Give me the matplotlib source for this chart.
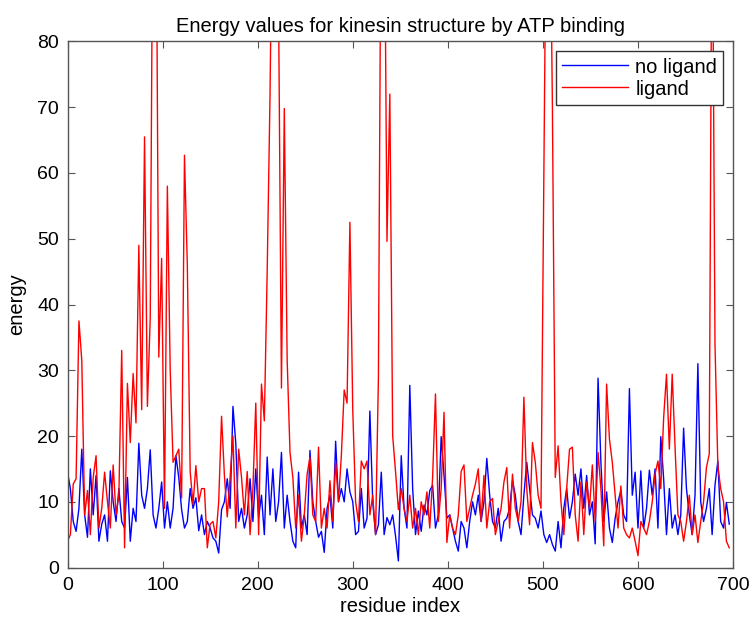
import matplotlib
matplotlib.use("Agg")
import matplotlib.pyplot as plt
import numpy as np

plt.rcParams['font.family'] = ['Liberation Sans', 'DejaVu Sans']

# residue index, sampled every 3 residues
residues = np.arange(0, 697, 3)

# energy without ligand (blue)
no_ligand = [
    14.5, 12, 7, 5.5, 9, 18, 8, 4.6, 15, 8, 14, 4, 6.6, 8, 4, 14.7, 10, 7, 12, 7,
    6, 13.7, 4, 9, 7, 18.9, 11, 9, 12, 17.9, 8, 6, 9, 13, 6, 10, 6, 9, 17, 13.7,
    8.8, 6, 7, 12, 9, 10.6, 5.6, 8, 5, 7, 6, 4.5, 4, 2.2, 8.8, 10, 13.5, 9, 24.5, 18.8,
    7, 9, 6, 8, 13.5, 7, 15, 7.6, 11, 5, 16.8, 8, 15, 7, 10, 17.5, 6, 11, 7, 4,
    3, 14.5, 6, 8, 5, 17.8, 10, 7, 4.6, 5.5, 2.3, 9, 11, 6, 19.2, 10, 12, 10, 15, 11.5,
    10, 5, 5.5, 12, 6, 7.5, 23.8, 10, 5, 6.5, 14.5, 5, 7.6, 6.5, 8, 4.8, 1, 17, 9, 6,
    27.7, 12, 5, 8.6, 5.5, 9.5, 8, 11.7, 12.5, 6, 8, 19.9, 14, 7.5, 8, 6, 4, 2.5, 7, 6,
    3, 7, 10, 8, 11, 7, 10, 16.6, 11, 7, 6, 9, 4, 7, 7.5, 9, 13.2, 11, 7, 5,
    11, 16, 12, 8, 7.5, 6, 8.6, 5, 3.8, 5, 3.5, 2.5, 7, 3, 9, 12, 7.5, 10, 14.2, 11,
    15, 9, 14, 8, 10, 3.6, 28.8, 16, 7, 11.5, 6, 3.8, 7.5, 10, 11.7, 8, 7, 27.2, 11, 14.5,
    6, 14.7, 6, 9, 14.8, 11, 15, 6, 19.9, 13.5, 5, 12, 6, 8, 5, 8, 21.2, 12, 8, 5,
    11, 31, 10, 7, 9, 12, 5, 12.5, 16.2, 7, 6, 9.9, 6.6,
]

# energy with ligand (red)
ligand = [
    4, 5, 12.7, 13.5, 37.5, 31.5, 8, 11.7, 5, 13.7, 17, 6, 9, 14.5, 10, 6, 15.6, 8, 11, 33,
    3, 28, 19, 29.5, 22, 49, 24, 65.5, 24.5, 38, 110, 110, 32, 47, 9, 58, 30, 16, 17, 18,
    10.6, 62.7, 46, 14.6, 9.6, 15.5, 10, 12, 12, 3, 6.6, 7, 4.5, 10, 23, 14, 7.7, 13.7, 20, 6,
    18, 13.7, 8, 14.6, 5, 12, 25, 5, 27.9, 22.3, 45, 72, 110, 110, 85, 27.3, 69.8, 31.6, 17.5, 13.7,
    6, 11, 4, 8, 14.2, 16.8, 8, 7, 18.3, 6, 9, 6, 13.2, 7, 16, 10, 17, 27, 25, 52.5,
    24, 10, 7, 16.2, 15, 16.2, 8, 11, 5, 29, 110, 110, 49.6, 72, 20, 14.6, 8.8, 12, 9, 7,
    11, 6, 9, 5, 10, 8, 11.5, 6, 13.7, 26.4, 7, 12, 23.6, 3.8, 8, 6, 5, 8, 14.6, 15.6,
    7, 9, 11, 12.7, 15, 7, 14, 6, 10, 10.5, 5, 7, 9, 13, 15.2, 6, 14.2, 9, 7, 10,
    25.9, 12, 6.5, 19, 16, 11, 9, 60, 110, 110, 70, 13.7, 18.5, 10, 5, 12, 18, 18.3, 8, 4,
    13, 5, 13, 9, 15.6, 7, 17.5, 12, 3.3, 27.9, 19.5, 16, 11, 6, 12.4, 6, 5, 4.5, 6, 4,
    1.8, 7, 6, 5, 7, 10, 14.2, 16.2, 12, 22.8, 29.4, 18, 29.4, 18.3, 8, 7, 4, 7, 11, 5,
    8, 3.8, 7, 10, 15.2, 17.3, 110, 34, 15.5, 12, 10, 4, 3,
]

assert len(no_ligand) == len(residues) == len(ligand)

fig = plt.figure(figsize=(7.52, 6.22), dpi=100)
ax = fig.add_axes([0.0898, 0.0876, 0.885, 0.8457])

ax.plot(residues, no_ligand, color='#0000ff', lw=1.0, label='no ligand')
ax.plot(residues, ligand, color='#ff0000', lw=1.0, label='ligand')

ax.set_xlim(0, 700)
ax.set_ylim(0, 80)
ax.set_xticks(np.arange(0, 701, 100))
ax.set_yticks(np.arange(0, 81, 10))

for s in ax.spines.values():
    s.set_color('#555555')
    s.set_linewidth(1.0)
ax.tick_params(direction='in', top=True, right=True, length=5, width=0.8,
               color='#555555', labelsize=14, labelcolor='black')
ax.tick_params(axis='x', pad=7)
ax.tick_params(axis='y', pad=6)

ax.set_title('Energy values for kinesin structure by ATP binding', fontsize=14.5, pad=7)
ax.set_xlabel('residue index', fontsize=14.5, labelpad=2)
ax.set_ylabel('energy', fontsize=14.5, labelpad=8)

leg = ax.legend(loc='upper right', bbox_to_anchor=(0.985, 0.981), fontsize=14.5,
                handlelength=3.3, fancybox=False, framealpha=1, borderaxespad=0,
                borderpad=0.3, labelspacing=0.15, handletextpad=0.35)
leg.get_frame().set_edgecolor('#333333')
leg.get_frame().set_linewidth(1.0)

fig.savefig('out.png', dpi=100)
